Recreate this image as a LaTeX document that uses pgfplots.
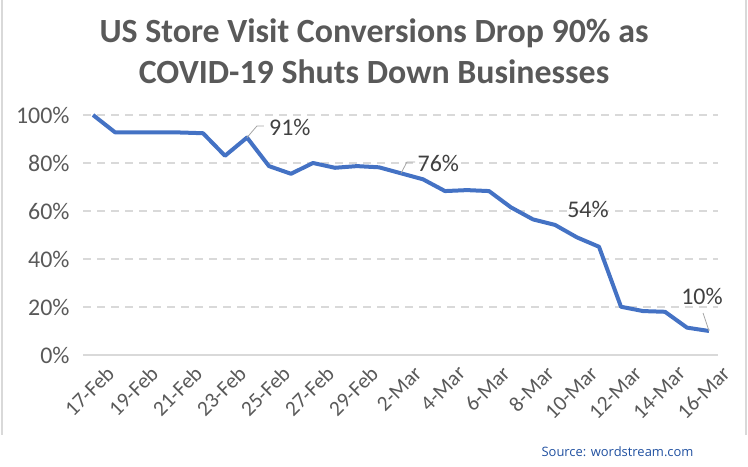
\documentclass[border=0pt]{standalone}
\usepackage{pgfplots}
\pgfplotsset{compat=1.18}
\usepackage{fontspec}
\setmainfont{Carlito}
\newfontfamily\srcfont{Open Sans}
\definecolor{linecol}{HTML}{4472C4}
\definecolor{gridcol}{HTML}{D9D9D9}
\definecolor{tickcol}{HTML}{595959}
\definecolor{titlecol}{HTML}{595959}
\definecolor{labcol}{HTML}{404040}
\definecolor{srccol}{HTML}{2050A0}
\begin{document}
\begin{tikzpicture}[x=1bp,y=1bp]
\path[use as bounding box] (0,0) rectangle (748,467);
\draw[gridcol, line width=2bp] (2,467) -- (2,32);
\draw[gridcol, line width=2bp] (746,467) -- (746,32);
\node[font=\bfseries\fontsize{34}{41}\selectfont, text=titlecol, align=center] at (374,416)
  {US Store Visit Conversions Drop 90\% as\\COVID-19 Shuts Down Businesses};
\node[font=\srcfont\fontsize{13}{16}\selectfont, text=srccol, anchor=east] at (697,15) {Source: wordstream.com};
\begin{axis}[
  at={(83bp,112bp)}, anchor=south west,
  scale only axis, width=635bp, height=240bp,
  xmin=-0.4545, xmax=28.41, ymin=0, ymax=100,
  clip=false,
  axis line style={draw=none},
  tick style={draw=none},
  ymajorgrids,
  grid style={gridcol, line width=1.5bp, dash pattern=on 8bp off 6bp},
  ytick={0,20,40,60,80,100},
  yticklabel={\pgfmathprintnumber{\tick}\%},
  /pgf/number format/assume math mode=true,
  y tick label style={font=\fontsize{24}{26}\selectfont, text=tickcol, xshift=-10bp},
  xtick={0,2,...,28},
  xticklabels={17-Feb,19-Feb,21-Feb,23-Feb,25-Feb,27-Feb,29-Feb,2-Mar,4-Mar,6-Mar,8-Mar,10-Mar,12-Mar,14-Mar,16-Mar},
  x tick label style={font=\fontsize{21.5}{24}\selectfont, text=tickcol, rotate=45, anchor=north east, xshift=5bp, yshift=-12bp},
]
\draw[gridcol, line width=1.5bp] (axis cs:-0.4545,0) -- (axis cs:28.41,0);
\addplot[linecol, line width=4bp, line join=round, mark=none] coordinates {
(0,100) (1,92.8) (2,92.8) (3,92.8) (4,92.7) (5,92.4) (6,83) (7,90.6)
(8,78.7) (9,75.5) (10,80) (11,78) (12,78.7) (13,78.2) (14,75.7) (15,73.2)
(16,68.3) (17,68.7) (18,68.3) (19,61.5) (20,56.5) (21,54.2) (22,49) (23,45.1)
(24,20.1) (25,18.3) (26,18) (27,11.4) (28,10)
};
\draw[black!35, line width=0.8bp] (axis cs:7,90.6) -- (axis cs:7.45,95.4) -- (axis cs:7.77,95.4);
\draw[black!35, line width=0.8bp] (axis cs:14,75.7) -- (axis cs:14.27,80.4) -- (axis cs:14.64,80.4);
\draw[black!35, line width=0.8bp] (axis cs:28,10) -- (axis cs:27.73,17.5);
\node[font=\fontsize{24}{26}\selectfont, text=labcol] at (axis cs:8.95,95) {91\%};
\node[font=\fontsize{24}{26}\selectfont, text=labcol] at (axis cs:15.7,80) {76\%};
\node[font=\fontsize{24}{26}\selectfont, text=labcol] at (axis cs:22.5,60.8) {54\%};
\node[font=\fontsize{24}{26}\selectfont, text=labcol] at (axis cs:27.68,24.2) {10\%};
\end{axis}
\end{tikzpicture}
\end{document}
